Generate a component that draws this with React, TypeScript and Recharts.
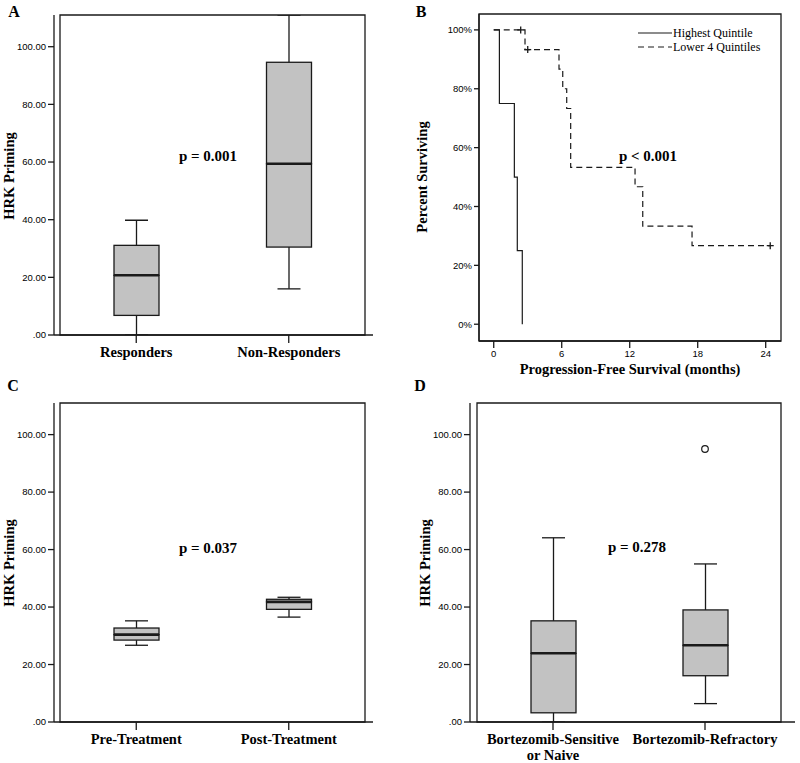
import React from "react"
import { ComposedChart, LineChart, Bar, Line, XAxis, YAxis, ReferenceArea, Legend } from "recharts"

const SERIF = '"Liberation Serif", "Times New Roman", serif'
const TICK_FONT = '"Liberation Sans Narrow", "Liberation Sans", Arial, sans-serif'
const INK = "#1a1a1a"
const BOX_FILL = "#c2c2c2"

// A: responders vs non-responders
const responseGroups = ["Responders", "Non-Responders"]
const responseMin = [0, 16.0]
const responseQ1 = [6.8, 30.5]
const responseMedian = [20.7, 59.4]
const responseQ3 = [31.1, 94.6]
const responseMax = [39.8, 111]

// C: before / after treatment
const treatmentGroups = ["Pre-Treatment", "Post-Treatment"]
const treatmentMin = [26.7, 36.5]
const treatmentQ1 = [28.5, 39.2]
const treatmentMedian = [30.4, 41.8]
const treatmentQ3 = [32.7, 42.7]
const treatmentMax = [35.2, 43.4]

// D: bortezomib status
const bortezomibGroups = ["Bortezomib-Sensitive\nor Naive", "Bortezomib-Refractory"]
const bortezomibMin = [0, 6.4]
const bortezomibQ1 = [3.2, 16.1]
const bortezomibMedian = [23.9, 26.7]
const bortezomibQ3 = [35.2, 39.0]
const bortezomibMax = [64.1, 55.0]
const bortezomibOutlier = [null, 95.0]

const hrkTicks = [0, 20, 40, 60, 80, 100]

// B: Kaplan-Meier curves
const highTimes = [0, 0.5, 1.82, 2.08, 2.52]
const highSurvival = [100, 75, 50, 25, 0]
const lowerTimes = [0, 2.38, 2.76, 3.0, 5.76, 6.09, 6.44, 6.79, 12.47, 13.15, 17.5, 24.4]
const lowerSurvival = [100, 100, 93.3, 93.3, 86.7, 80, 73.3, 53.3, 46.7, 33.3, 26.7, 26.7]
const lowerCensored = [false, true, false, true, false, false, false, false, false, false, false, true]
const survivalTicks = [0, 20, 40, 60, 80, 100]
const monthTicks = [0, 6, 12, 18, 24]
const legendLabels = ["Highest Quintile", "Lower 4 Quintiles"]
const legendDashes = ["", "6 4"]

function buildBoxRows(groups: string[], mins: number[], q1s: number[], medians: number[], q3s: number[], maxs: number[], outliers?: (number | null)[]) {
  return groups.map((name, i) => ({
    name,
    base: mins[i],
    lowerWhisker: q1s[i] - mins[i],
    lowerBox: medians[i] - q1s[i],
    upperBox: q3s[i] - medians[i],
    upperWhisker: maxs[i] - q3s[i],
    outlier: outliers ? outliers[i] : null,
  }))
}

const responseRows = buildBoxRows(responseGroups, responseMin, responseQ1, responseMedian, responseQ3, responseMax)
const treatmentRows = buildBoxRows(treatmentGroups, treatmentMin, treatmentQ1, treatmentMedian, treatmentQ3, treatmentMax)
const bortezomibRows = buildBoxRows(bortezomibGroups, bortezomibMin, bortezomibQ1, bortezomibMedian, bortezomibQ3, bortezomibMax, bortezomibOutlier)

const highRows = highTimes.map((t, i) => ({ t, survival: highSurvival[i] }))
const lowerRows = lowerTimes.map((t, i) => ({ t, survival: lowerSurvival[i], censored: lowerCensored[i] }))

const CAP = 23

function lowerWhiskerShape(props: any) {
  const { x, y, width, height } = props
  const cx = x + width / 2
  const bottom = y + height
  return (
    <g>
      <line x1={cx} x2={cx} y1={y} y2={bottom} stroke={INK} strokeWidth={1.3} />
      <line x1={cx - CAP / 2} x2={cx + CAP / 2} y1={bottom} y2={bottom} stroke={INK} strokeWidth={1.3} />
    </g>
  )
}

function upperWhiskerShape(props: any) {
  const { x, y, width, height } = props
  const cx = x + width / 2
  return (
    <g>
      <line x1={cx} x2={cx} y1={y} y2={y + height} stroke={INK} strokeWidth={1.3} />
      <line x1={cx - CAP / 2} x2={cx + CAP / 2} y1={y} y2={y} stroke={INK} strokeWidth={1.3} />
    </g>
  )
}

function lowerBoxShape(props: any) {
  const { x, y, width, height } = props
  return <rect x={x} y={y} width={width} height={height} fill={BOX_FILL} stroke={INK} strokeWidth={1.3} />
}

// upper half of the box, median drawn on its bottom edge
function upperBoxShape(props: any) {
  const { x, y, width, height } = props
  return (
    <g>
      <rect x={x} y={y} width={width} height={height} fill={BOX_FILL} stroke={INK} strokeWidth={1.3} />
      <line x1={x} x2={x + width} y1={y + height} y2={y + height} stroke={INK} strokeWidth={2.6} />
    </g>
  )
}

function OutlierDot(props: any) {
  const { cx, cy, payload, index } = props
  if (payload.outlier == null || cy == null) return <g key={index} />
  return <circle key={index} cx={cx} cy={cy} r={3.3} fill="#fff" stroke={INK} strokeWidth={1.2} />
}

function CategoryTick(props: any) {
  const { x, y, payload } = props
  const lines = String(payload.value).split("\n")
  return (
    <text x={x} y={y} textAnchor="middle" fontFamily={SERIF} fontWeight="bold" fontSize={14.5} fill="#000">
      {lines.map((line, i) => (
        <tspan key={i} x={x} dy={i === 0 ? "0.71em" : "1.06em"}>
          {line}
        </tspan>
      ))}
    </text>
  )
}

const tickStyle = { fill: "#000", fontSize: 9.5, fontFamily: TICK_FONT }
const axisStroke = { stroke: INK, strokeWidth: 1.3 }

function formatHrk(v: number) {
  return v === 0 ? ".00" : v.toFixed(2)
}

interface BoxPanelProps {
  rows: ReturnType<typeof buildBoxRows>
  width: number
  height: number
  yAxisWidth: number
  xAxisHeight: number
  margin: { top: number; right: number; bottom: number; left: number }
  padding: { left: number; right: number }
}

function BoxPanel({ rows, width, height, yAxisWidth, xAxisHeight, margin, padding }: BoxPanelProps) {
  return (
    <ComposedChart width={width} height={height} data={rows} margin={margin} barCategoryGap={0}>
      <XAxis
        dataKey="name"
        height={xAxisHeight}
        padding={padding}
        interval={0}
        tick={<CategoryTick />}
        tickSize={8}
        tickMargin={4}
        axisLine={axisStroke}
        tickLine={axisStroke}
      />
      <YAxis
        width={yAxisWidth}
        domain={[0, 111]}
        ticks={hrkTicks}
        allowDataOverflow
        tickFormatter={formatHrk}
        tick={tickStyle}
        tickSize={6}
        tickMargin={2}
        axisLine={axisStroke}
        tickLine={axisStroke}
      />
      <Bar dataKey="base" stackId="box" fill="none" barSize={45} isAnimationActive={false} />
      <Bar dataKey="lowerWhisker" stackId="box" barSize={45} shape={lowerWhiskerShape} isAnimationActive={false} />
      <Bar dataKey="lowerBox" stackId="box" barSize={45} shape={lowerBoxShape} isAnimationActive={false} />
      <Bar dataKey="upperBox" stackId="box" barSize={45} shape={upperBoxShape} isAnimationActive={false} />
      <Bar dataKey="upperWhisker" stackId="box" barSize={45} shape={upperWhiskerShape} isAnimationActive={false} />
      <Line dataKey="outlier" stroke="none" dot={OutlierDot} activeDot={false} isAnimationActive={false} />
      <ReferenceArea y1={0} y2={111} fill="none" stroke={INK} strokeWidth={1.3} ifOverflow="visible" />
    </ComposedChart>
  )
}

function CensorMark(props: any) {
  const { cx, cy, payload, index } = props
  if (!payload.censored) return <g key={index} />
  return (
    <g key={index}>
      <line x1={cx - 3.5} x2={cx + 3.5} y1={cy} y2={cy} stroke={INK} strokeWidth={1.3} strokeDasharray="none" />
      <line x1={cx} x2={cx} y1={cy - 3.5} y2={cy + 3.5} stroke={INK} strokeWidth={1.3} strokeDasharray="none" />
    </g>
  )
}

function SurvivalLegend() {
  return (
    <div style={{ fontFamily: SERIF, fontSize: 12, color: "#000" }}>
      {legendLabels.map((label, i) => (
        <div key={label} style={{ display: "flex", alignItems: "center", height: 14.3 }}>
          <svg width={35} height={10}>
            <line x1={0} x2={34} y1={5} y2={5} stroke={INK} strokeWidth={1.2} strokeDasharray={legendDashes[i] || undefined} />
          </svg>
          <span>{label}</span>
        </div>
      ))}
    </div>
  )
}

function SurvivalPanel() {
  return (
    <LineChart width={400} height={380} margin={{ top: 14, right: 19, bottom: 0, left: 0 }}>
      <XAxis
        type="number"
        dataKey="t"
        domain={[-1.3, 25.35]}
        ticks={monthTicks}
        allowDataOverflow
        height={39}
        tick={tickStyle}
        tickSize={7}
        tickMargin={2}
        axisLine={axisStroke}
        tickLine={axisStroke}
      />
      <YAxis
        type="number"
        domain={[-5.7, 105.4]}
        ticks={survivalTicks}
        allowDataOverflow
        width={79}
        tickFormatter={(v: number) => `${v}%`}
        tick={tickStyle}
        tickSize={5}
        tickMargin={2}
        axisLine={axisStroke}
        tickLine={axisStroke}
      />
      <Line
        data={highRows}
        dataKey="survival"
        name={legendLabels[0]}
        type="stepAfter"
        stroke={INK}
        strokeWidth={1.2}
        dot={false}
        activeDot={false}
        isAnimationActive={false}
      />
      <Line
        data={lowerRows}
        dataKey="survival"
        name={legendLabels[1]}
        type="stepAfter"
        stroke={INK}
        strokeWidth={1.2}
        strokeDasharray="6 4"
        dot={CensorMark}
        activeDot={false}
        isAnimationActive={false}
      />
      <ReferenceArea y1={-5.7} y2={105.4} fill="none" stroke={INK} strokeWidth={1.3} ifOverflow="visible" />
      <Legend
        layout="vertical"
        align="center"
        verticalAlign="middle"
        wrapperStyle={{ top: 26, left: 238, width: 150 }}
        content={() => <SurvivalLegend />}
      />
    </LineChart>
  )
}

function Caption({ x, y, size = 14.5, rotate = false, children }: { x: number; y: number; size?: number; rotate?: boolean; children: React.ReactNode }) {
  return (
    <div
      style={{
        position: "absolute",
        left: x,
        top: y,
        zIndex: 5,
        transform: `translate(-50%, -50%)${rotate ? " rotate(-90deg)" : ""}`,
        fontFamily: SERIF,
        fontWeight: "bold",
        fontSize: size,
        lineHeight: 1.2,
        whiteSpace: "nowrap",
        color: "#000",
      }}
    >
      {children}
    </div>
  )
}

export default function App() {
  return (
    <div style={{ position: "fixed", left: 0, top: 0, width: 800, height: 763, background: "#fff", overflow: "hidden" }}>
      <div style={{ position: "absolute", left: 0, top: 0 }}>
        <BoxPanel
          rows={responseRows}
          width={400}
          height={380}
          yAxisWidth={54}
          xAxisHeight={45}
          margin={{ top: 15, right: 27, bottom: 0, left: 0 }}
          padding={{ left: 6, right: 8 }}
        />
      </div>
      <div style={{ position: "absolute", left: 400, top: 0 }}>
        <SurvivalPanel />
      </div>
      <div style={{ position: "absolute", left: 0, top: 380 }}>
        <BoxPanel
          rows={treatmentRows}
          width={400}
          height={383}
          yAxisWidth={54}
          xAxisHeight={41}
          margin={{ top: 23, right: 27, bottom: 0, left: 0 }}
          padding={{ left: 6, right: 8 }}
        />
      </div>
      <div style={{ position: "absolute", left: 400, top: 380 }}>
        <BoxPanel
          rows={bortezomibRows}
          width={400}
          height={383}
          yAxisWidth={70}
          xAxisHeight={41}
          margin={{ top: 23, right: 5, bottom: 0, left: 0 }}
          padding={{ left: 7, right: 14 }}
        />
      </div>

      <Caption x={14} y={12} size={16}>A</Caption>
      <Caption x={421} y={12} size={16}>B</Caption>
      <Caption x={13} y={386} size={16}>C</Caption>
      <Caption x={420} y={386} size={16}>D</Caption>

      <Caption x={10} y={176} rotate>HRK Priming</Caption>
      <Caption x={423} y={177} rotate>Percent Surviving</Caption>
      <Caption x={10} y={563} rotate>HRK Priming</Caption>
      <Caption x={426} y={563} rotate>HRK Priming</Caption>
      <Caption x={630} y={370}>Progression-Free Survival (months)</Caption>

      <Caption x={208} y={156} size={15}>p = 0.001</Caption>
      <Caption x={648} y={156} size={15}>p &lt; 0.001</Caption>
      <Caption x={208} y={548} size={15}>p = 0.037</Caption>
      <Caption x={637} y={547} size={15}>p = 0.278</Caption>
    </div>
  )
}
